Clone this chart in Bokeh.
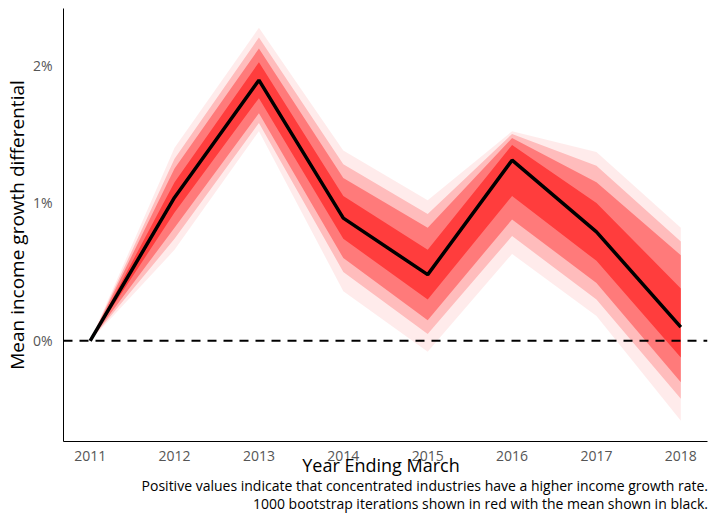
from bokeh.plotting import figure
from bokeh.models import Span, Range1d, FixedTicker, Div
from bokeh.layouts import column
from bokeh.embed import file_html
from bokeh.resources import INLINE

years = [2011, 2012, 2013, 2014, 2015, 2016, 2017, 2018]
mean_diff = [0.0, 1.04, 1.89, 0.89, 0.48, 1.31, 0.79, 0.10]
outer_lo = [0.0, 0.66, 1.52, 0.36, -0.08, 0.63, 0.18, -0.58]
outer_hi = [0.0, 1.40, 2.27, 1.38, 1.02, 1.52, 1.37, 0.82]
wide_lo = [0.0, 0.74, 1.58, 0.50, 0.05, 0.76, 0.30, -0.42]
wide_hi = [0.0, 1.32, 2.20, 1.28, 0.92, 1.50, 1.27, 0.72]
mid_lo = [0.0, 0.82, 1.65, 0.60, 0.15, 0.88, 0.42, -0.30]
mid_hi = [0.0, 1.25, 2.12, 1.18, 0.82, 1.47, 1.15, 0.62]
core_lo = [0.0, 0.93, 1.76, 0.74, 0.30, 1.05, 0.58, -0.12]
core_hi = [0.0, 1.15, 2.02, 1.05, 0.66, 1.42, 1.00, 0.38]
y_ticks = [0, 1, 2]
y_labels = {0: "0%", 1: "1%", 2: "2%"}
x_title = "Year Ending March"
captions = ["Positive values indicate that concentrated industries have a higher income growth rate.",
            "1000 bootstrap iterations shown in red with the mean shown in black."]

p = figure(width=711, height=463, output_backend="svg", toolbar_location=None,
           x_range=Range1d(2010.684, 2018.316), y_range=Range1d(-0.73, 2.41),
           min_border_left=0, min_border_right=4, min_border_top=8, min_border_bottom=22)

bands = [(outer_lo, outer_hi, 0.08), (wide_lo, wide_hi, 0.2),
         (mid_lo, mid_hi, 0.35), (core_lo, core_hi, 0.5)]
for lo, hi, a in bands:
    p.varea(x=years, y1=lo, y2=hi, fill_color="#ff0000", fill_alpha=a)

p.add_layout(Span(location=0, dimension="width", line_color="black",
                  line_width=2, line_dash="9 7"))
p.line(years, mean_diff, line_color="black", line_width=3.5)

p.xgrid.visible = False
p.ygrid.visible = False
p.outline_line_color = None

p.xaxis.ticker = FixedTicker(ticks=years)
p.yaxis.ticker = FixedTicker(ticks=y_ticks)
p.yaxis.major_label_overrides = y_labels
for ax in (p.xaxis[0], p.yaxis[0]):
    ax.major_tick_line_color = None
    ax.minor_tick_line_color = None
    ax.axis_line_color = "black"
    ax.axis_line_width = 1
    ax.major_label_text_font = "Open Sans"
    ax.major_label_text_font_size = "14px"
    ax.major_label_text_color = "#555555"
p.xaxis.major_label_standoff = 3
p.yaxis.major_label_standoff = 5
p.yaxis.axis_label = "Mean income growth differential"
p.yaxis.axis_label_text_font = "Open Sans"
p.yaxis.axis_label_text_font_style = "normal"
p.yaxis.axis_label_text_color = "black"
p.yaxis.axis_label_text_font_size = "19px"
p.yaxis.axis_label_standoff = 0

html = (
    '<div style="position:relative;width:711px;height:48px;font-family:\'Open Sans\';color:#000;">'
    '<div style="position:absolute;left:55px;width:652px;top:-7px;text-align:center;'
    'font-size:18px;line-height:18px;white-space:nowrap;">' + x_title + '</div>'
    '<div style="position:absolute;right:3px;top:14px;text-align:right;'
    'font-size:14px;line-height:18px;white-space:nowrap;">' + "<br>".join(captions) + '</div>'
    '</div>'
)
d = Div(text=html, width=711, height=48, margin=(0, 0, 0, 0))

open("out.html", "w").write(file_html(column(p, d, spacing=0), INLINE))
